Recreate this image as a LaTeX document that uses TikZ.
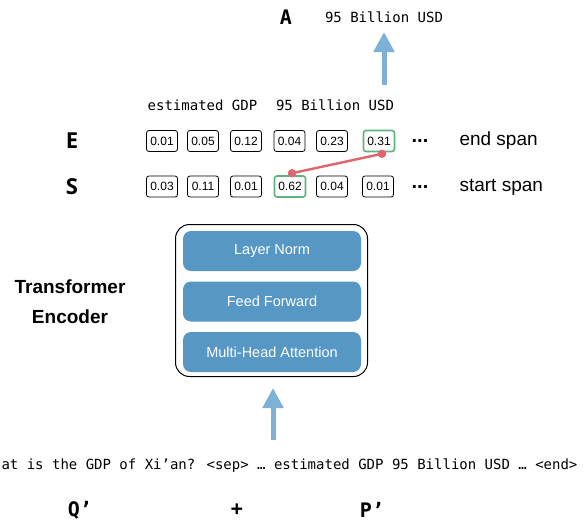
\documentclass[tikz,border=0pt]{standalone}
\usepackage{fontspec}
\setmainfont{Liberation Sans}
\newfontfamily\monof{DejaVu Sans Mono}
\newfontfamily\esfont{Open Sans}
\usetikzlibrary{arrows.meta}
\definecolor{arrowblue}{HTML}{7DB1D8}
\definecolor{layerblue}{HTML}{5697C4}
\definecolor{ansgreen}{HTML}{5DB37E}
\definecolor{linkred}{HTML}{E0646E}
\begin{document}
\begin{tikzpicture}[x=1pt,y=-1pt,
 numbox/.style={draw, rounded corners=2.5pt, line width=0.8pt, minimum width=31pt, minimum height=21pt, inner sep=0pt, font=\fontsize{12}{14}\selectfont},
 hit/.style={numbox, draw=ansgreen, line width=1.6pt},
 layer/.style={fill=layerblue, draw=none, rounded corners=8pt, minimum width=178pt, minimum height=40pt, text=white, font=\fontsize{14.5}{17}\selectfont},
 flow/.style={draw=arrowblue, line width=5pt, -{Triangle[width=20pt,length=20pt]}},
 mono/.style={font=\monof\fontsize{14}{16}\selectfont},
 monobig/.style={font=\monof\bfseries\fontsize{20}{22}\selectfont},
 rowlabel/.style={font=\esfont\bfseries\fontsize{22}{24}\selectfont},
 side/.style={anchor=west, font=\fontsize{19}{21}\selectfont},
 dots/.style={font=\bfseries\fontsize{20}{22}\selectfont},
 link/.style={draw=linkred, line width=2.4pt},
 knob/.style={fill=linkred}]
\useasboundingbox (0,0) rectangle (587,522);

% answer
\node[monobig] (A) at (286,17) {A};
\node[mono] (ans) at (384,17) {95 Billion USD};
\coordinate (topfrom) at (384,85);
\coordinate (topto) at (384,32);
\draw[flow] (topfrom) -- (topto);

% token labels
\node[mono] (est) at (202.5,105) {estimated GDP};
\node[mono] (bil) at (335,105) {95 Billion USD};

% E row
\node[rowlabel] (E) at (72,141) {E};
\node[numbox] (e1) at (162,141) {0.01};
\node[numbox] (e2) at (203,141) {0.05};
\node[numbox] (e3) at (246,141) {0.12};
\node[numbox] (e4) at (289.5,141) {0.04};
\node[numbox] (e5) at (332,141) {0.23};
\node[hit] (e6) at (379,141) {0.31};
\node[dots] (edots) at (420,141) {...};
\node[side] (eend) at (456,141) {end span};

% S row
\node[rowlabel] (S) at (72,187) {S};
\node[numbox] (s1) at (162,186.5) {0.03};
\node[numbox] (s2) at (203,186.5) {0.11};
\node[numbox] (s3) at (246,186.5) {0.01};
\node[hit] (s4) at (290,186.5) {0.62};
\node[numbox] (s5) at (332,186.5) {0.04};
\node[numbox] (s6) at (378,186.5) {0.01};
\node[dots] (sdots) at (420,187) {...};
\node[side] (send) at (456,187) {start span};

% link
\coordinate (la) at ([xshift=3pt,yshift=-1.5pt]e6.south);
\coordinate (lb) at ([xshift=2pt,yshift=2pt]s4.north);
\draw[link] (la) -- (lb);
\fill[knob] (la) circle (4.2pt);
\fill[knob] (lb) circle (4.2pt);

% encoder
\node[draw, rounded corners=14pt, line width=1pt, minimum width=192pt, minimum height=152pt] (enc) at (271.5,300.5) {};
\node[layer] (ln) at (272,251) {Layer Norm};
\node[layer] (ff) at (272,301.5) {Feed Forward};
\node[layer] (mha) at (272,352) {Multi-Head Attention};
\node[align=center, font=\bfseries\fontsize{19}{30}\selectfont] (tlabel) at (70,302) {Transformer\\Encoder};

% input
\coordinate (botfrom) at (273,440);
\coordinate (botto) at (273,388);
\draw[flow] (botfrom) -- (botto);
\node[mono, anchor=east] (inp) at (581,466) {at is the GDP of Xi’an? <sep> … estimated GDP 95 Billion USD … <end>};

\node[monobig] (Q) at (80,510) {Q’};
\node[monobig] (plus) at (237,510) {+};
\node[monobig] (P) at (372,510) {P’};
\end{tikzpicture}
\end{document}
